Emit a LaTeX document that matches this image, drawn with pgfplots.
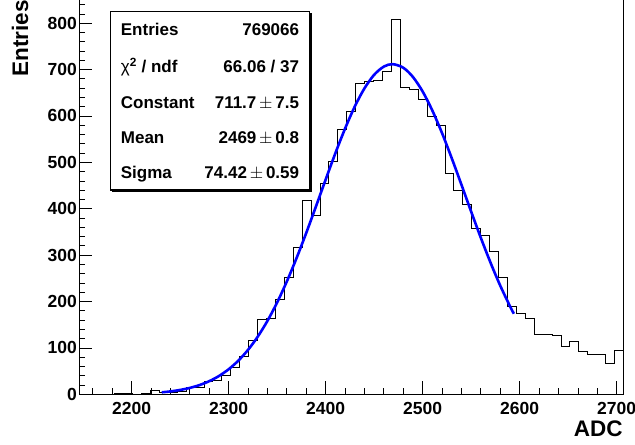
\documentclass[border=0pt]{standalone}
\usepackage{pgfplots}
\pgfplotsset{compat=1.18}
\usepackage{fontspec}
\setmainfont{Liberation Sans}

\begin{document}
\begin{tikzpicture}
\begin{axis}[
  scale only axis, width=544.3bp, height=394.3bp,
  at={(79bp,50.7bp)}, anchor=south west,
  xmin=2145.7, xmax=2706.8, ymin=0, ymax=850,
  xtick={2200,2300,...,2700}, ytick={0,100,...,800},
  minor xtick={2160,2180,...,2700}, minor ytick={0,20,...,840},
  tick align=inside, tick pos=left,
  major tick length=13bp, minor tick length=6.5bp,
  axis line style={line width=1bp},
  tick style={line width=0.8bp, black},
  /pgf/number format/assume math mode=true,
  /pgf/number format/1000 sep={},
  ticklabel style={font=\fontsize{17.5bp}{17.5bp}\selectfont\bfseries},
  xticklabel style={inner sep=0pt, yshift=-7.5bp},
  yticklabel style={inner sep=0pt, xshift=-2bp},
  clip=true,
]
\addplot[const plot, black, line width=0.8bp] coordinates {
(2145.7,0) (2154.9,0) (2164.1,0) (2173.3,0) (2182.5,1) (2191.7,1) (2200.9,0)
(2210.1,2) (2219.3,8) (2228.5,4) (2237.7,5) (2246.9,6) (2256.1,14) (2265.3,14)
(2274.5,27) (2283.7,31) (2292.9,41) (2302.1,59) (2311.3,81) (2320.5,117)
(2329.7,161) (2338.9,164) (2348.1,204) (2357.3,251) (2366.5,316) (2375.7,417)
(2384.9,386) (2394.1,455) (2403.3,502) (2412.5,572) (2421.7,609) (2430.9,670)
(2440.1,675) (2449.3,677) (2458.5,697) (2467.7,809) (2476.9,662) (2486.1,657)
(2495.3,636) (2504.5,599) (2513.7,580) (2522.9,476) (2532.1,439) (2541.3,409)
(2550.5,358) (2559.7,343) (2568.9,307) (2578.1,251) (2587.3,190) (2596.5,174)
(2605.7,164) (2614.9,129) (2624.1,129) (2633.3,127) (2642.5,103) (2651.7,115)
(2660.9,93) (2670.1,87) (2679.3,85) (2688.5,67) (2697.7,95) (2706.9,95)
};
\addplot[blue, line width=2.6bp, smooth] coordinates {
(2231,4.28) (2240,6.26) (2250,9.38) (2260,13.80) (2270,19.94) (2280,28.30)
(2290,39.45) (2300,54.01) (2310,72.62) (2320,95.90) (2330,124.39) (2340,158.44)
(2350,198.19) (2360,243.50) (2370,293.79) (2380,348.12) (2390,405.13)
(2400,463.05) (2410,519.78) (2420,573.01) (2430,620.39) (2440,659.67)
(2450,688.88) (2460,706.52) (2469,711.7) (2480,703.97) (2490,683.92)
(2500,652.56) (2510,611.49) (2520,562.78) (2530,508.64) (2540,451.51)
(2550,393.61) (2560,336.99) (2570,283.35) (2580,233.99) (2590,189.79)
(2594,173.65)
};
\end{axis}
% stats box
\fill[black] (111.7bp,253.4bp) rectangle (311.5bp,431.7bp);
\draw[fill=white, line width=1.1bp] (110.2bp,255bp) rectangle (309.8bp,433.2bp);
\begin{scope}[every node/.style={inner sep=0pt, font=\fontsize{17bp}{17bp}\selectfont\bfseries}]
\node[anchor=base west] at (120.7bp,409bp) {Entries};
\node[anchor=base east] at (299.3bp,409bp) {769066};
\node[anchor=base west] at (120.7bp,372.5bp) {{\mdseries χ}\textsuperscript{2} / ndf};
\node[anchor=base east] at (299.3bp,372.5bp) {66.06 / 37};
\node[anchor=base west] at (120.7bp,336.7bp) {Constant};
\node[anchor=base east] at (299.3bp,336.7bp) {711.7\,$\pm$\,7.5};
\node[anchor=base west] at (120.7bp,301bp) {Mean};
\node[anchor=base east] at (299.3bp,301bp) {2469\,$\pm$\,0.8};
\node[anchor=base west] at (120.7bp,266bp) {Sigma};
\node[anchor=base east] at (299.3bp,266bp) {74.42\,$\pm$\,0.59};
\end{scope}
\node[rotate=90, anchor=north east, inner sep=0pt, font=\fontsize{22.5bp}{22.5bp}\selectfont\bfseries] at (11.7bp,445bp) {Entries};
\node[anchor=base east, inner sep=0pt, font=\fontsize{22.5bp}{22.5bp}\selectfont\bfseries] at (622.7bp,8.3bp) {ADC};
\pgfresetboundingbox
\path[use as bounding box] (0,0) rectangle (635bp,445bp);
\end{tikzpicture}
\end{document}
